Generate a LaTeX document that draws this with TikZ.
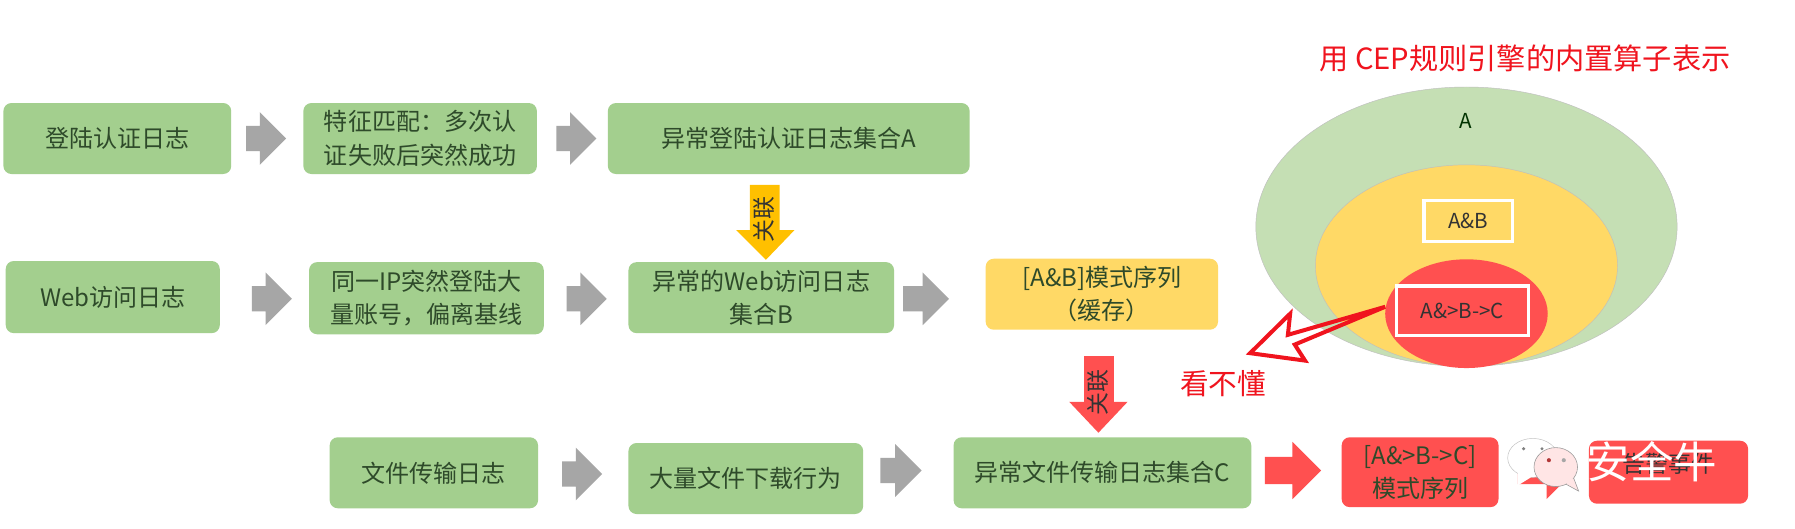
\documentclass[tikz,border=0pt]{standalone}
\usepackage{fontspec}
\setmainfont{Noto Sans CJK SC}
\definecolor{gbox}{HTML}{A3CF8E}
\definecolor{gell}{HTML}{C5DFB4}
\definecolor{ybox}{HTML}{FFD966}
\definecolor{rbox}{HTML}{FF5050}
\definecolor{garr}{HTML}{A6A6A6}
\definecolor{gtxt}{HTML}{2E4A2A}
\definecolor{rtxt}{HTML}{F0141E}
\definecolor{otxt}{HTML}{FFC000}
\newcommand{\boxat}[7]{% name,x1,y1,x2,y2,fill,text
 \node[bx,fill=#6,minimum width=#4pt-#2pt,minimum height=#5pt-#3pt] (#1) at ({(#2+#4)/2},{(#3+#5)/2}) {#7};}
\newcommand{\arr}[6]{% name,x1,x2,yc,halfh,fill
 \fill[#6] (#2,#4-#5*0.48) -- ({#3-#5},#4-#5*0.48) -- ({#3-#5},#4-#5) -- (#3,#4) -- ({#3-#5},#4+#5) -- ({#3-#5},#4+#5*0.48) -- (#2,#4+#5*0.48) -- cycle;
 \coordinate (#1) at ({(#2+#3)/2},#4);}
\tikzset{
 bx/.style={draw=none,rounded corners=7pt,align=center,text=gtxt,font=\fontsize{21}{29}\selectfont,inner sep=0pt},
 note/.style={text=rtxt,inner sep=0pt},
 inlab/.style={text=black!80!green,inner sep=0pt,font=\fontsize{18}{20}\selectfont},
 wbox/.style={draw=white,line width=3pt,fill=none,inner sep=0pt,text=black!80,font=\fontsize{18}{20}\selectfont},
 vlab/.style={rotate=90,inner sep=0pt,text=black!80,font=\fontsize{20}{22}\selectfont}
}
\begin{document}
\begin{tikzpicture}[x=1pt,y=-1pt]
\useasboundingbox (0,0) rectangle (1568,462.1);
\fill[white] (0,0) rectangle (1568,462.1);
% row 1
\boxat{login}{3}{90}{202}{152}{gbox}{登陆认证日志}
\boxat{match}{265}{90}{469}{152}{gbox}{特征匹配：多次认\\证失败后突然成功}
\boxat{setA}{531}{90}{847}{152}{gbox}{异常登陆认证日志集合A}
\arr{a1}{215}{250}{121}{23}{garr}
\arr{a2}{486}{521}{121}{23}{garr}
% row 2
\boxat{web}{5}{228}{192}{291}{gbox}{Web访问日志}
\boxat{sameip}{270}{229}{475}{292}{gbox}{同一IP突然登陆大\\量账号，偏离基线}
\boxat{setB}{549}{229}{781}{291}{gbox}{异常的Web访问日志\\集合B}
\boxat{ab}{861}{226}{1064}{288}{ybox}{[A\&B]模式序列\\（缓存）}
\arr{a3}{220}{255}{261}{23}{garr}
\arr{a4}{495}{530}{261}{23}{garr}
\arr{a5}{789}{829}{261}{23}{garr}
% row 3
\boxat{file}{288}{382}{470}{444}{gbox}{文件传输日志}
\boxat{down}{549}{387}{754}{449}{gbox}{大量文件下载行为}
\boxat{setC}{833}{382}{1093}{444}{gbox}{异常文件传输日志集合C}
\boxat{abc}{1172}{382}{1309}{443}{rbox}{[A\&>B->C]\\模式序列}
\arr{a6}{491}{526}{414}{23}{garr}
\arr{a7}{769}{805}{411}{23}{garr}
\arr{a8}{1105}{1154}{411}{25}{rbox}
\arr{a9}{1326}{1376}{411}{25}{rbox}
\boxat{event}{1388}{385}{1527}{440}{rbox}{}
\node[inner sep=0pt,text=black!80,font=\fontsize{20}{22}\selectfont] (evt) at (event.center) [yshift=7pt] {告警事件};
% vertical arrows
\fill[otxt] (655,161.5) -- (681,161.5) -- (681,201) -- (694,201) -- (669,227) -- (643,201) -- (655,201) -- cycle;
\node[vlab] (v1) at (667,192) {关联};
\fill[rbox] (947,311) -- (973,311) -- (973,351) -- (985,351) -- (959.5,378) -- (934,351) -- (947,351) -- cycle;
\node[vlab] (v2) at (959,343) {关联};
% venn
\draw[fill=gell,draw=black!25] (1281,198) ellipse [x radius=184,y radius=122];
\draw[fill=ybox,draw=black!25] (1281,232) ellipse [x radius=132,y radius=88];
\fill[rbox] (1281,274) ellipse [x radius=71,y radius=47.5];
\node[inlab] (lA) at (1280,106) {A};
\node[wbox,minimum width=77pt,minimum height=36pt] (lab) at (1282.5,193) {A\&B};
\node[wbox,minimum width=115pt,minimum height=43pt] (labc) at (1277.5,271.5) {A\&>B->C};
% notes
\node[note,font=\fontsize{25.5}{28}\selectfont] (title) at (1332,51) {用 CEP规则引擎的内置算子表示};
\node[note,font=\fontsize{25}{28}\selectfont] (nd) at (1068.5,335) {看不懂};
\draw[rtxt,line width=3.5pt,line join=miter] (1210,268) -- (1125,292.5) -- (1127,274) -- (1092,308.5) -- (1140,315) -- (1131,301) -- cycle;
% watermark
\draw[fill=white,draw=black!25,line width=.4pt] (1339,400) ellipse [x radius=22,y radius=17];
\fill[white] (1326,412) -- (1326,424) -- (1342,414) -- cycle;
\fill[black!50] (1331,392) circle (1.5);
\fill[black!50] (1347,392) circle (1.5);
\fill[white!90!red,draw=black!40,line width=.5pt] (1368,423) -- (1379,429) -- (1374,416) -- cycle;
\draw[fill=white!90!red,draw=black!40,line width=.5pt] (1359,408) ellipse [x radius=19,y radius=17];
\fill[white!90!red] (1368,422) -- (1377,427) -- (1373,416) -- cycle;
\fill[rbox!70!black] (1353,402) circle (1.8);
\fill[black!35] (1366,402) circle (1.8);
\node[inner sep=0pt,text=white,font=\fontsize{38}{40}\selectfont] (wm) at (1443,403) {安全牛};
\end{tikzpicture}
\end{document}
